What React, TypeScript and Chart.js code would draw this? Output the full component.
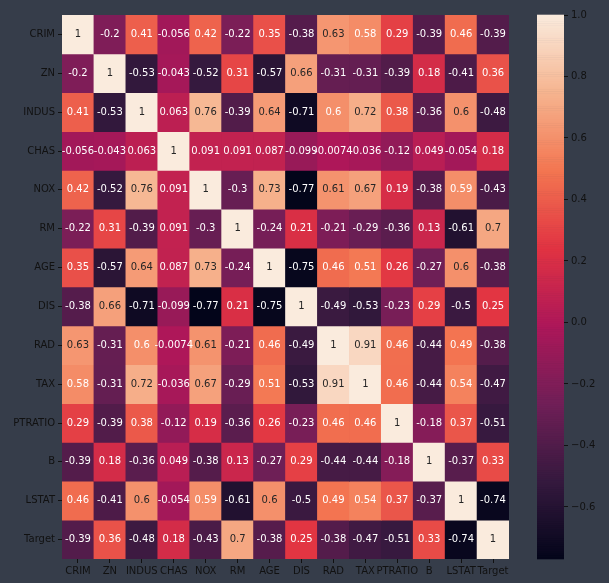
import React, { useEffect, useRef } from "react";
import { Chart, registerables } from "chart.js";

Chart.register(...registerables);

const features = ["CRIM", "ZN", "INDUS", "CHAS", "NOX", "RM", "AGE", "DIS", "RAD", "TAX", "PTRATIO", "B", "LSTAT", "Target"];

const rowCRIM = [1, -0.200469, 0.406583, -0.055892, 0.420972, -0.219247, 0.352734, -0.37967, 0.625505, 0.582764, 0.289946, -0.385064, 0.455621, -0.388305];
const rowZN = [-0.200469, 1, -0.533828, -0.042697, -0.516604, 0.311991, -0.569537, 0.664408, -0.311948, -0.314563, -0.391679, 0.17552, -0.412995, 0.360445];
const rowINDUS = [0.406583, -0.533828, 1, 0.062938, 0.763651, -0.391676, 0.644779, -0.708027, 0.595129, 0.72076, 0.383248, -0.356977, 0.6038, -0.483725];
const rowCHAS = [-0.055892, -0.042697, 0.062938, 1, 0.091203, 0.091251, 0.086518, -0.099176, -0.007368, -0.035587, -0.121515, 0.048788, -0.053929, 0.17526];
const rowNOX = [0.420972, -0.516604, 0.763651, 0.091203, 1, -0.302188, 0.73147, -0.76923, 0.611441, 0.668023, 0.188933, -0.380051, 0.590879, -0.427321];
const rowRM = [-0.219247, 0.311991, -0.391676, 0.091251, -0.302188, 1, -0.240265, 0.205246, -0.209847, -0.292048, -0.355501, 0.128069, -0.613808, 0.69536];
const rowAGE = [0.352734, -0.569537, 0.644779, 0.086518, 0.73147, -0.240265, 1, -0.747881, 0.456022, 0.506456, 0.261515, -0.273534, 0.602339, -0.376955];
const rowDIS = [-0.37967, 0.664408, -0.708027, -0.099176, -0.76923, 0.205246, -0.747881, 1, -0.494588, -0.534432, -0.232471, 0.291512, -0.496996, 0.249929];
const rowRAD = [0.625505, -0.311948, 0.595129, -0.007368, 0.611441, -0.209847, 0.456022, -0.494588, 1, 0.910228, 0.464741, -0.444413, 0.488676, -0.381626];
const rowTAX = [0.582764, -0.314563, 0.72076, -0.035587, 0.668023, -0.292048, 0.506456, -0.534432, 0.910228, 1, 0.460853, -0.441808, 0.543993, -0.468536];
const rowPTRATIO = [0.289946, -0.391679, 0.383248, -0.121515, 0.188933, -0.355501, 0.261515, -0.232471, 0.464741, 0.460853, 1, -0.177383, 0.374044, -0.507787];
const rowB = [-0.385064, 0.17552, -0.356977, 0.048788, -0.380051, 0.128069, -0.273534, 0.291512, -0.444413, -0.441808, -0.177383, 1, -0.366087, 0.333461];
const rowLSTAT = [0.455621, -0.412995, 0.6038, -0.053929, 0.590879, -0.613808, 0.602339, -0.496996, 0.488676, 0.543993, 0.374044, -0.366087, 1, -0.737663];
const rowTarget = [-0.388305, 0.360445, -0.483725, 0.17526, -0.427321, 0.69536, -0.376955, 0.249929, -0.381626, -0.468536, -0.507787, 0.333461, -0.737663, 1];

const matrix = [rowCRIM, rowZN, rowINDUS, rowCHAS, rowNOX, rowRM, rowAGE, rowDIS, rowRAD, rowTAX, rowPTRATIO, rowB, rowLSTAT, rowTarget];

const colorbarTicks = [-0.6, -0.4, -0.2, 0.0, 0.2, 0.4, 0.6, 0.8, 1.0];

const VMIN = Math.min(...matrix.map((r) => Math.min(...r)));
const VMAX = 1;

const BG = "#363d4a";
const FONT = "'DejaVu Sans', sans-serif";
const TICK_COLOR = "#111111";

// rocket colormap stops
const rocketStops: [number, number[]][] = [
  [0.0, [3, 5, 26]],
  [1 / 7, [53, 25, 62]],
  [2 / 7, [112, 31, 87]],
  [3 / 7, [173, 23, 89]],
  [4 / 7, [225, 51, 66]],
  [5 / 7, [243, 118, 81]],
  [6 / 7, [246, 180, 143]],
  [1.0, [250, 235, 221]],
];

function rocket(t: number): string {
  t = Math.max(0, Math.min(1, t));
  for (let i = 1; i < rocketStops.length; i++) {
    const [t1, c1] = rocketStops[i];
    const [t0, c0] = rocketStops[i - 1];
    if (t <= t1) {
      const f = (t - t0) / (t1 - t0);
      const c = c0.map((v, k) => Math.round(v + (c1[k] - v) * f));
      return `rgb(${c[0]},${c[1]},${c[2]})`;
    }
  }
  return "rgb(250,235,221)";
}

const colorFor = (v: number) => rocket((v - VMIN) / (VMAX - VMIN));
const fmt = (v: number) => String(Number(v.toPrecision(2)));

const annotatePlugin = {
  id: "annotate",
  afterDatasetsDraw(chart: any) {
    const ctx = chart.ctx;
    ctx.save();
    ctx.font = `10px ${FONT}`;
    ctx.textAlign = "center";
    ctx.textBaseline = "middle";
    chart.data.datasets.forEach((ds: any, r: number) => {
      const meta = chart.getDatasetMeta(r);
      meta.data.forEach((bar: any, c: number) => {
        const v = matrix[r][c];
        const { x } = bar.getProps(["x"], true);
        const y = chart.scales.y.getPixelForValue(r);
        ctx.fillStyle = v >= 0.6 ? "#262626" : "#ffffff";
        ctx.fillText(fmt(v), x, y);
      });
    });
    ctx.restore();
  },
};

const colorbarPlugin = {
  id: "colorbarFill",
  beforeDatasetsDraw(chart: any) {
    const ctx = chart.ctx;
    const { left, right } = chart.chartArea;
    const ys = chart.scales.y;
    const N = 256;
    for (let i = 0; i < N; i++) {
      const v0 = VMIN + ((VMAX - VMIN) * i) / N;
      const v1 = VMIN + ((VMAX - VMIN) * (i + 1)) / N;
      const p0 = ys.getPixelForValue(v0);
      const p1 = ys.getPixelForValue(v1);
      ctx.fillStyle = rocket((i + 0.5) / N);
      ctx.fillRect(left, Math.min(p0, p1) - 0.3, right - left, Math.abs(p1 - p0) + 0.6);
    }
  },
};

export default function App() {
  const mainRef = useRef<HTMLCanvasElement>(null);
  const barRef = useRef<HTMLCanvasElement>(null);

  useEffect(() => {
    const main = new Chart(mainRef.current!, {
      type: "bar",
      data: {
        labels: features,
        datasets: matrix.map((row, r) => ({
          label: features[r],
          data: row.map(() => [r - 0.5, r + 0.5]),
          backgroundColor: row.map((v) => colorFor(v)),
          borderWidth: 0,
          barPercentage: 1,
          categoryPercentage: 1,
          grouped: false,
        })),
      } as any,
      options: {
        responsive: false,
        animation: false,
        devicePixelRatio: 1,
        layout: { padding: { left: 0, top: 15, right: 100, bottom: 0 } },
        plugins: { legend: { display: false }, tooltip: { enabled: false } },
        scales: {
          x: {
            type: "category",
            offset: true,
            grid: { offset: false, drawOnChartArea: false, drawTicks: true, tickLength: 4, color: TICK_COLOR },
            border: { display: false },
            ticks: { color: TICK_COLOR, font: { family: FONT, size: 10 }, padding: 2, maxRotation: 0, autoSkip: false },
            afterFit: (s: any) => { s.height = 24; },
          },
          y: {
            type: "linear",
            reverse: true,
            min: -0.5,
            max: features.length - 0.5,
            afterBuildTicks: (s: any) => { s.ticks = features.map((_, i) => ({ value: i })); },
            grid: { drawOnChartArea: false, drawTicks: true, tickLength: 4, color: TICK_COLOR },
            border: { display: false },
            ticks: {
              color: TICK_COLOR,
              font: { family: FONT, size: 10 },
              padding: 3,
              autoSkip: false,
              callback: (v: any) => features[Math.round(Number(v))] ?? "",
            },
            afterFit: (s: any) => { s.width = 62; },
          },
        },
      } as any,
      plugins: [annotatePlugin],
    });

    const bar = new Chart(barRef.current!, {
      type: "bar",
      data: { labels: [""], datasets: [] },
      options: {
        responsive: false,
        animation: false,
        devicePixelRatio: 1,
        layout: { padding: { left: 0, top: 15, right: 0, bottom: 24 } },
        plugins: { legend: { display: false }, tooltip: { enabled: false } },
        scales: {
          x: { display: false },
          y: {
            type: "linear",
            position: "right",
            min: VMIN,
            max: VMAX,
            afterBuildTicks: (s: any) => { s.ticks = colorbarTicks.map((v) => ({ value: v })); },
            grid: { drawOnChartArea: false, drawTicks: true, tickLength: 4, color: TICK_COLOR },
            border: { display: false },
            ticks: {
              color: TICK_COLOR,
              font: { family: FONT, size: 10 },
              padding: 3,
              callback: (v: any) => Number(v).toFixed(1).replace("-", "\u2212"),
            },
            afterFit: (s: any) => { s.width = 45; },
          },
        },
      } as any,
      plugins: [colorbarPlugin],
    });

    return () => { main.destroy(); bar.destroy(); };
  }, []);

  return (
    <div style={{ position: "fixed", left: 0, top: 0, width: 609, height: 583, background: BG, overflow: "hidden" }}>
      <canvas ref={mainRef} width={609} height={583} style={{ position: "absolute", left: 0, top: 0, width: 609, height: 583 }} />
      <canvas ref={barRef} width={72} height={583} style={{ position: "absolute", left: 537, top: 0, width: 72, height: 583 }} />
    </div>
  );
}
